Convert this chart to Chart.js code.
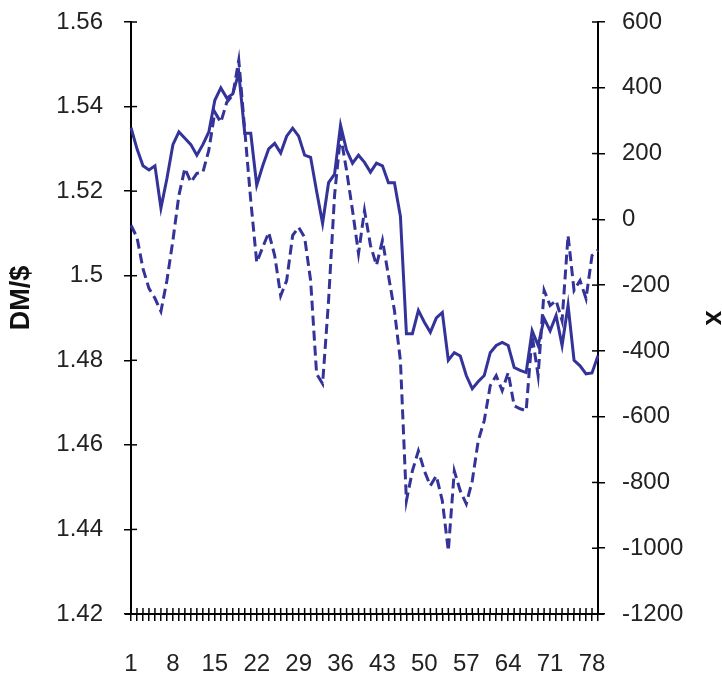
<!DOCTYPE html>
<html>
<head>
<meta charset="utf-8">
<script src="https://cdn.jsdelivr.net/npm/chart.js@4.4.0/dist/chart.umd.min.js"></script>
<style>
  html, body { margin: 0; padding: 0; background: #ffffff; }
  #wrap { width: 722px; height: 677px; position: relative; }
</style>
</head>
<body>
<div id="wrap"><canvas id="c" width="722" height="677"></canvas></div>
<script>
const categories = [
  1,2,3,4,5,6,7,8,9,10,11,12,13,14,15,16,17,18,19,20,
  21,22,23,24,25,26,27,28,29,30,31,32,33,34,35,36,37,38,39,40,
  41,42,43,44,45,46,47,48,49,50,51,52,53,54,55,56,57,58,59,60,
  61,62,63,64,65,66,67,68,69,70,71,72,73,74,75,76,77,78,79
];

const dmPerDollar = [
  1.535, 1.530, 1.526, 1.525, 1.526, 1.516, 1.523, 1.531, 1.534, 1.5325,
  1.531, 1.5285, 1.531, 1.534, 1.5415, 1.5444, 1.542, 1.543, 1.548, 1.5337,
  1.5337, 1.5214, 1.526, 1.530, 1.5313, 1.529, 1.533, 1.5349, 1.533, 1.5285,
  1.528, 1.520, 1.5124, 1.522, 1.524, 1.5356, 1.5297, 1.5266, 1.5285, 1.5268,
  1.5245, 1.5266, 1.526, 1.522, 1.522, 1.514, 1.4863, 1.4863, 1.4918, 1.489,
  1.4866, 1.490, 1.4913, 1.480, 1.4818, 1.481, 1.4764, 1.4733, 1.475, 1.4764,
  1.4818, 1.4835, 1.4842, 1.4835, 1.4783, 1.4776, 1.4771, 1.487, 1.4835, 1.4899,
  1.487, 1.4906, 1.4835, 1.493, 1.480, 1.4787, 1.4768, 1.477, 1.4811
];

const xSeries = [
  -18, -55, -150, -210, -240, -280, -186, -64, 73, 155,
  113, 140, 143, 210, 326, 295, 356, 378, 484, 271,
  58, -131, -85, -40, -110, -232, -186, -49, -24, -55,
  -186, -470, -500, -247, 73, 256, 149, 27, -104, 27,
  -79, -140, -64, -171, -277, -430, -856, -765, -704, -765,
  -810, -780, -856, -1008, -765, -826, -865, -795, -673, -612,
  -506, -475, -521, -466, -567, -576, -582, -353, -475, -216,
  -262, -247, -308, -49, -216, -186, -241, -110, -94
];

const xTickEvery = 7;
const leftTitle = 'DM/$';
const rightTitle = 'x';

const FONT = "'Liberation Sans', Arial, sans-serif";
const LINE = '#333399';

const crossTicks = {
  id: 'crossTicks',
  afterDraw(chart) {
    const ctx = chart.ctx;
    const area = chart.chartArea;
    ctx.save();
    ctx.strokeStyle = '#000';
    ctx.lineWidth = 1.5;
    const inner = 6;
    const xs = chart.scales.x;
    xs.ticks.forEach((t, i) => {
      const px = xs.getPixelForTick(i);
      ctx.beginPath(); ctx.moveTo(px, area.bottom); ctx.lineTo(px, area.bottom - inner); ctx.stroke();
    });
    const yl = chart.scales.yL;
    yl.ticks.forEach((t, i) => {
      const py = yl.getPixelForTick(i);
      ctx.beginPath(); ctx.moveTo(area.left, py); ctx.lineTo(area.left + inner, py); ctx.stroke();
    });
    const yr = chart.scales.yR;
    yr.ticks.forEach((t, i) => {
      const py = yr.getPixelForTick(i);
      ctx.beginPath(); ctx.moveTo(area.right, py); ctx.lineTo(area.right - inner, py); ctx.stroke();
    });
    // bottom axis line extends slightly past both vertical axes
    ctx.lineWidth = 2;
    ctx.beginPath(); ctx.moveTo(area.left - 6, area.bottom); ctx.lineTo(area.right + 6, area.bottom); ctx.stroke();

    ctx.fillStyle = '#111';
    ctx.font = "bold 27px " + FONT;
    ctx.textAlign = 'center';
    ctx.textBaseline = 'middle';
    ctx.save();
    ctx.translate(22, 298);
    ctx.rotate(-Math.PI / 2);
    ctx.fillText(leftTitle, 0, 0);
    ctx.restore();
    ctx.save();
    ctx.translate(713, 318);
    ctx.rotate(Math.PI / 2);
    ctx.fillText(rightTitle, 0, 0);
    ctx.restore();
    ctx.restore();
  }
};

function noPad(scale) {
  scale.paddingTop = 0;
  scale.paddingBottom = 0;
  scale.paddingLeft = 0;
  scale.paddingRight = 0;
}

new Chart(document.getElementById('c'), {
  type: 'line',
  data: {
    labels: categories,
    datasets: [
      {
        label: leftTitle,
        data: dmPerDollar,
        yAxisID: 'yL',
        borderColor: LINE,
        borderWidth: 3,
        pointRadius: 0,
        tension: 0,
        fill: false
      },
      {
        label: rightTitle,
        data: xSeries,
        yAxisID: 'yR',
        borderColor: LINE,
        borderWidth: 3,
        borderDash: [10, 5],
        pointRadius: 0,
        tension: 0,
        fill: false
      }
    ]
  },
  options: {
    responsive: false,
    animation: false,
    devicePixelRatio: 1,
    layout: { padding: { top: 22, left: 0, right: 0, bottom: 0 } },
    plugins: {
      legend: { display: false },
      tooltip: { enabled: false }
    },
    scales: {
      x: {
        type: 'category',
        offset: false,
        border: { display: true, color: '#000', width: 2 },
        grid: { display: true, drawOnChartArea: false, drawTicks: true, tickLength: 7, color: '#000', lineWidth: 1.5 },
        ticks: {
          autoSkip: false,
          maxRotation: 0,
          minRotation: 0,
          padding: 29,
          color: '#222',
          font: { family: FONT, size: 24 },
          callback: function(v, i) { return (i % xTickEvery === 0) ? String(categories[i]) : ''; }
        },
        afterFit(scale) { scale.height = 63; noPad(scale); }
      },
      yL: {
        type: 'linear',
        position: 'left',
        min: 1.42,
        max: 1.56,
        border: { display: true, color: '#000', width: 2 },
        grid: { display: true, drawOnChartArea: false, drawTicks: true, tickLength: 7, color: '#000', lineWidth: 1.5 },
        ticks: {
          stepSize: 0.02,
          padding: 21,
          color: '#222',
          font: { family: FONT, size: 24 },
          callback: function(v) { return String(Number(v.toFixed(2))); }
        },
        title: { display: false },
        afterFit(scale) { scale.width = 131; noPad(scale); }
      },
      yR: {
        type: 'linear',
        position: 'right',
        min: -1200,
        max: 600,
        border: { display: true, color: '#000', width: 2 },
        grid: { display: true, drawOnChartArea: false, drawTicks: true, tickLength: 7, color: '#000', lineWidth: 1.5 },
        ticks: {
          stepSize: 200,
          padding: 17,
          color: '#222',
          font: { family: FONT, size: 24 },
          callback: function(v) { return String(Math.round(v)); }
        },
        title: { display: false },
        afterFit(scale) { scale.width = 124; noPad(scale); }
      }
    }
  },
  plugins: [crossTicks]
});
</script>
</body>
</html>
